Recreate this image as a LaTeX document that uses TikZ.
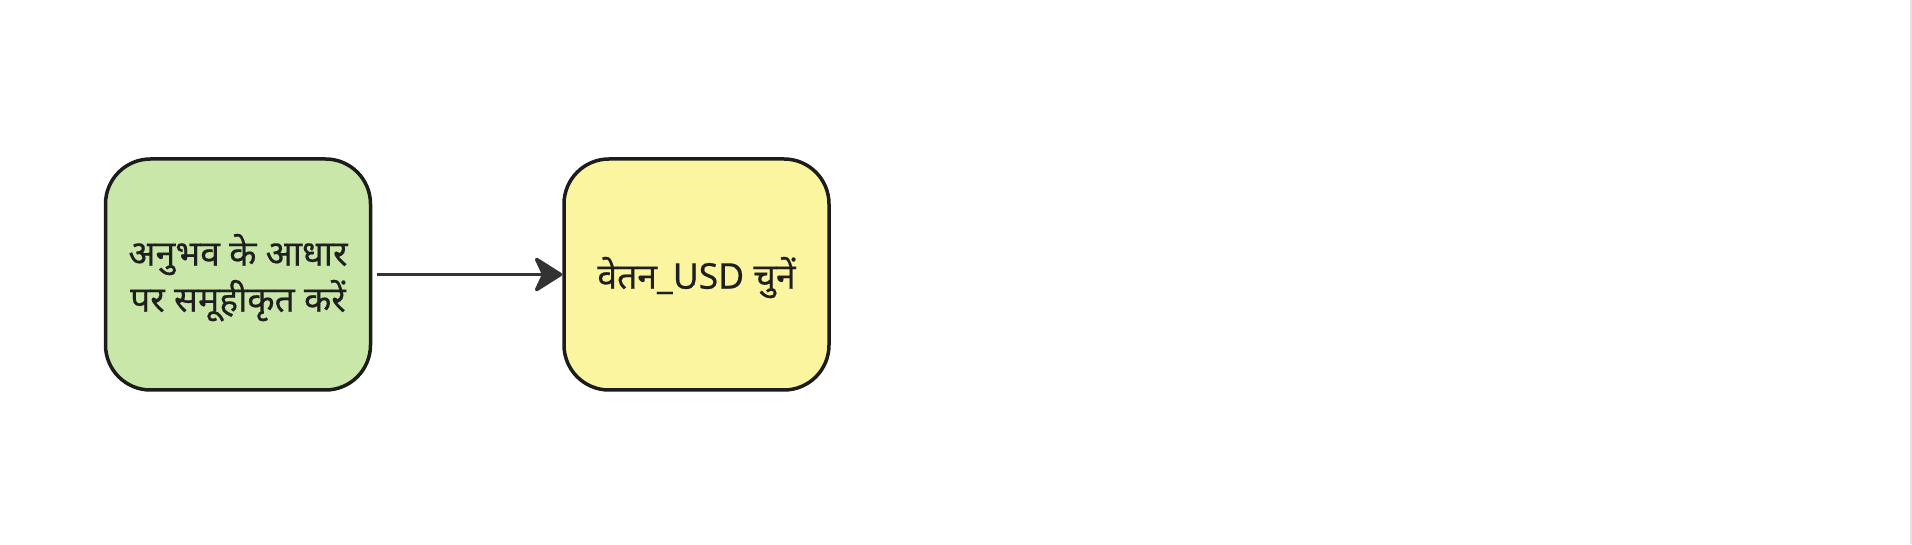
\documentclass[tikz,border=0pt]{standalone}
\usepackage{fontspec}
\setmainfont[Script=Devanagari,FakeBold=0.4]{Noto Sans}
\usetikzlibrary{arrows.meta}
\definecolor{boxgreen}{HTML}{C8E7A9}
\definecolor{boxyellow}{HTML}{FCF5A0}
\definecolor{edge}{HTML}{1C1C1C}
\definecolor{arrowc}{HTML}{333333}
\definecolor{rim}{HTML}{E2E2E2}
\newcommand{\lowertext}[1]{\raisebox{-5pt}[\height][\depth]{\begin{tabular}{@{}c@{}}#1\end{tabular}}}
\tikzset{
  stepbox/.style={draw=edge, line width=3.5pt, rounded corners=45pt,
    minimum width=265pt, minimum height=231pt, inner sep=0pt,
    align=center, font=\fontsize{35.5}{46}\selectfont, text=black!88},
  flow/.style={draw=arrowc, line width=3.5pt,
    -{Stealth[length=31pt, width=39pt, inset=9pt, round]}}
}
\begin{document}
\begin{tikzpicture}[x=1pt,y=1pt]
\useasboundingbox (0,0) rectangle (1912,544);
\fill[white] (0,0) rectangle (1912,544);
\draw[rim, line width=1.5pt] (1911.2,0) -- (1911.2,544);
\node[stepbox, fill=boxgreen] (a) at (238,269.5) {\lowertext{अनुभव के आधार\\पर समूहीकृत करें}};
\node[stepbox, fill=boxyellow] (b) at (696.5,269.5) {\lowertext{वेतन\_USD चुनें}};
\draw[flow] ([xshift=5pt]a.east) -- (b.west);
\end{tikzpicture}
\end{document}
